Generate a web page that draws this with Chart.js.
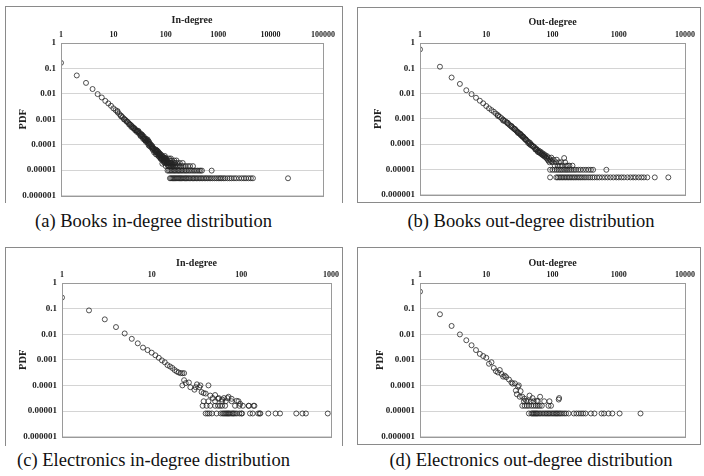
<!DOCTYPE html>
<html lang="en">
<head>
<meta charset="UTF-8">
<title>Degree distributions</title>
<script src="https://cdn.jsdelivr.net/npm/chart.js"></script>
<style>
  body { margin: 0; background: #fff; }
  #page { position: relative; width: 704px; height: 476px; overflow: hidden; }
  .box { position: absolute; border: 1px solid #8a8a8a; box-sizing: border-box; }
  .open { border-bottom: none; }
  canvas { position: absolute; }
  .cap { position: absolute; font-family: "Liberation Serif", serif; font-size: 18.5px; color: #111; white-space: nowrap; text-align: center; }
</style>
</head>
<body>
<div id="page">
  <div class="box open" style="left:5px;top:6px;width:338px;height:197px"></div>
  <div class="box" style="left:357px;top:7px;width:344px;height:196px"></div>
  <div class="box open" style="left:5px;top:247px;width:338px;height:199px"></div>
  <div class="box" style="left:357px;top:247px;width:344px;height:198px"></div>

  <canvas id="booksIn" width="336" height="199" style="left:6px;top:7px"></canvas>
  <canvas id="booksOut" width="341" height="197" style="left:358px;top:8px"></canvas>
  <canvas id="elecIn" width="336" height="199" style="left:6px;top:248px"></canvas>
  <canvas id="elecOut" width="341" height="199" style="left:358px;top:248px"></canvas>

  <div class="cap" style="left:0px;top:211px;width:307px">(a) Books in-degree distribution</div>
  <div class="cap" style="left:376px;top:211px;width:310px">(b) Books out-degree distribution</div>
  <div class="cap" style="left:0px;top:450px;width:307px">(c) Electronics in-degree distribution</div>
  <div class="cap" style="left:376px;top:450px;width:310px">(d) Electronics out-degree distribution</div>
</div>

<script>
// shared y axis (PDF)
const yTickValues = [0.000001, 0.00001, 0.0001, 0.001, 0.01, 0.1, 1];
const yTickLabels = ['0.000001', '0.00001', '0.0001', '0.001', '0.01', '0.1', '1'];

// x axis ticks
const xTicks5 = [1, 10, 100, 1000, 10000, 100000];
const xLabels5 = ['1', '10', '100', '1000', '10000', '100000'];
const xTicks4 = [1, 10, 100, 1000, 10000];
const xLabels4 = ['1', '10', '100', '1000', '10000'];
const xTicks3 = [1, 10, 100, 1000];
const xLabels3 = ['1', '10', '100', '1000'];

// (a) Books in-degree
const booksInX = [1,2,3,4,5,6,7,8,9,10,11,12,13,14,15,16,17,18,19,20,21,22,23,24,25,26,27,28,29,30,
  31,32,33,34,35,36,37,38,39,40,41,42,43,44,45,46,47,48,49,50,
  52,54,55,56,58,60,62,64,65,67,68,70,72,74,75,77,78,80,82,84,85,86,88,90,92,94,95,97,99,100,
  103,105,108,110,112,115,118,120,125,128,132,135,140,145,150,
  30,35,40,45,50,55,60,65,70,75,80,90,96,
  12,14,16,18,20,22,24,26,28,33,37,42,47,53,57,63,66,69,73,76,79,83,87,91,98];
const booksInPdf = [0.166,0.053,0.027,0.0155,0.0098,0.0072,0.0053,0.0042,0.0034,0.0027,0.0023,0.0019,0.0016,0.0014,0.0012,
  0.00105,0.00094,0.00084,0.00076,0.00068,0.00062,0.00057,0.00052,0.00047,0.00045,0.00041,0.00037,0.00036,0.00034,0.00031,
  0.00027,0.00029,0.00024,0.00026,0.00021,0.00023,0.00019,0.00021,0.00017,0.00018,0.00015,0.00017,0.00014,0.00015,0.00012,
  0.00014,0.00011,0.00013,0.0001,0.00011,
  0.0001,0.000085,0.00009,0.000078,0.000072,0.000068,0.00006,0.000065,0.000055,0.00005,0.000058,0.000045,0.000052,0.00004,
  0.000047,0.000038,0.000044,0.000034,0.00004,0.00003,0.000036,0.000018,0.000028,0.000033,0.000025,0.00003,0.000022,0.000027,
  0.00002,0.000025,
  0.000029,0.000019,0.000024,0.000016,0.00002,0.000014,0.000019,0.000024,0.000014,0.000019,0.000014,0.000017,0.000014,0.000019,0.000014,
  0.00035,0.00025,0.00015,0.00016,0.000085,0.00007,0.00005,0.000042,0.000056,0.000033,0.000028,0.000024,0.000036,
  0.0021,0.0013,0.00098,0.0008,0.00062,0.0005,0.00044,0.00037,0.00032,0.00022,0.00017,0.00013,0.000095,0.00008,0.000062,
  0.000052,0.000062,0.00004,0.000036,0.000042,0.00003,0.000026,0.000033,0.000021,0.00003];
const booksInTailLevels = [0.0000048, 0.0000096, 0.0000144, 0.0000192, 0.000024, 0.0000288];
const booksInTailX = [
  [120,126,133,140,147,155,163,172,181,190,200,212,225,238,250,265,280,300,320,340,360,385,410,440,470,500,540,580,620,670,
   720,780,850,920,1000,1080,1150,1250,1350,1500,1650,1800,2000,2200,2500,2800,3100,3400,3800,4200,4600,21500],
  [108,115,122,130,138,146,155,165,175,185,197,210,225,240,255,275,295,320,345,370,400,430,460,490,750],
  [100,110,118,127,136,148,160,172,186,200,220,240,265,290,330],
  [95,104,113,124,150,165,185,210],
  [92,100,130,145,160],
  [84,97,115,125]
];

// (b) Books out-degree
const booksOutX = [1,2,3,4,5,6,7,8,9,10,11,12,13,14,15,16,17,18,19,20,21,22,23,24,25,26,27,28,29,30,
  31,32,33,34,35,36,37,38,39,40,
  42,44,45,46,48,50,52,54,55,57,59,60,62,64,66,68,70,72,74,76,78,80,83,85,88,90,93,96,100,
  104,108,112,116,120,125,130,135,140,150,155,160,170,180,200,
  15,18,21,24,27,30,33,36,40,43,47,51,56,61,65,70,75,82,87,95];
const booksOutPdf = [0.56,0.115,0.043,0.024,0.0135,0.0095,0.0068,0.0052,0.0041,0.0032,0.0026,0.0022,0.0019,0.0016,0.0014,
  0.0012,0.00105,0.00093,0.00083,0.00075,0.00066,0.0006,0.00054,0.00049,0.00045,0.00041,0.00038,0.00035,0.00032,0.0003,
  0.00027,0.00026,0.00023,0.00022,0.0002,0.00019,0.00018,0.00016,0.00016,0.00014,
  0.00013,0.00012,0.0001,0.00011,0.000095,0.000085,0.00008,0.000072,0.000062,0.000065,0.000058,0.00005,0.000055,0.000046,
  0.00005,0.00004,0.000044,0.000036,0.00004,0.000032,0.000036,0.000029,0.000033,0.000024,0.000029,0.000019,0.000024,0.000029,0.000019,
  0.000024,0.000014,0.000019,0.000024,0.000014,0.000019,0.000014,0.000019,0.000014,0.000028,0.000019,0.000014,0.000014,0.000014,0.000014,
  0.0013,0.00085,0.0007,0.00052,0.0004,0.00028,0.00025,0.0002,0.00015,0.00011,0.00009,0.000078,0.00006,0.000048,0.000044,
  0.000038,0.000034,0.000027,0.000022,0.000021];
const booksOutTailLevels = [0.0000048, 0.0000096];
const booksOutTailX = [
  [92,114,120,127,134,141,149,157,166,175,185,196,208,220,234,248,263,280,300,320,345,370,400,430,470,510,560,620,680,750,
   830,920,1000,1100,1200,1350,1500,1650,1800,2000,2200,2400,2700,3500,5600],
  [92,100,108,116,124,132,140,150,160,170,182,195,210,225,245,265,290,320,350,380,410,650]
];

// (c) Electronics in-degree
const elecInX = [1,2,3,4,5,6,7,8,9,10,11,12,13,14,15,16,17,18,19,20,21,22,23,
  23,24,26,22,27,30,31,32,34,35,36,38,43,40,45,51,55,61,72,78,89,97,121,137];
const elecInPdf = [0.27,0.085,0.038,0.019,0.0107,0.0066,0.0044,0.003,0.0024,0.0019,0.0015,0.0012,0.00095,0.0008,0.00062,
  0.00055,0.00048,0.0004,0.00035,0.00032,0.0003,0.0003,0.0003,
  0.00016,0.000123,0.00013,0.0001,0.000085,0.000068,0.000085,0.00011,0.000085,0.0001,0.000055,0.00005,0.0001,0.000048,
  0.00004,0.000042,0.00003,0.000028,0.000036,0.00003,0.000025,0.000019,0.000016,0.000016];
const elecInTailLevels = [0.000008, 0.000016, 0.000024, 0.000032];
const elecInTailX = [
  [40,42,44,47,53,59,62,64,66,68,70,72,74,77,80,82,85,89,95,100,102,125,134,154,160,163,200,241,270,410,480,525,920],
  [37,41,45,51,55,58,61,66,85,95,104,121,140],
  [38,43,51,61,67,78,93],
  [48,56,64,70]
];

// (d) Electronics out-degree
const elecOutX = [1,2,3,4,5,6,7,8,9,10,11,12,13,14,15,16,17,18,19,20,22,24,25,27,28,29,30,31,32,33,35,38,40,45,50,58,65,90,124,126];
const elecOutPdf = [0.46,0.06,0.021,0.0098,0.0058,0.0037,0.0024,0.0017,0.0014,0.0012,0.0007,0.0008,0.00048,0.00036,0.00032,
  0.0004,0.00028,0.00022,0.00024,0.00021,0.00017,0.00013,0.000117,0.00012,0.000063,0.000045,0.00009,0.0001,0.000036,0.00006,
  0.000036,0.00003,0.000025,0.00004,0.000032,0.000025,0.000036,0.000024,0.000028,0.000032];
const elecOutTailLevels = [0.000008, 0.000016, 0.000024];
const elecOutTailX = [
  [44,48,50,52,54,56,58,60,63,66,70,74,78,82,86,90,95,100,105,110,115,120,126,132,140,150,160,175,210,230,250,270,290,315,
   380,430,550,600,700,800,1030,2130],
  [35,38,41,44,48,52,56,60,64,69,87,95],
  [37,42,47,52,60,75]
];

const serif = 'Liberation Serif';

// grey frame round the plot area
const frame = {
  id: 'frame',
  afterDraw(chart) {
    const a = chart.chartArea;
    const ctx = chart.ctx;
    ctx.save();
    ctx.strokeStyle = '#9a9a9a';
    ctx.lineWidth = 1;
    ctx.strokeRect(Math.round(a.left) + 0.5, Math.round(a.top) + 0.5,
      Math.round(a.right - a.left), Math.round(a.bottom - a.top));
    ctx.restore();
  }
};

function makePanel(id, xTicks, xLabels, xTitle, mainX, mainPdf, tailLevels, tailX, box) {
  const points = mainX.map((x, i) => ({ x: x, y: mainPdf[i] }));
  tailX.forEach((row, k) => row.forEach(x => points.push({ x: x, y: tailLevels[k] })));

  new Chart(document.getElementById(id), {
    type: 'scatter',
    data: {
      datasets: [{
        data: points,
        pointStyle: 'circle',
        pointRadius: 2.5,
        borderWidth: 1,
        borderColor: 'rgba(35,35,35,0.78)',
        backgroundColor: 'rgba(255,255,255,0)'
      }]
    },
    options: {
      responsive: false,
      animation: false,
      layout: { padding: { top: 0, left: 0, right: box.right, bottom: 0 } },
      plugins: { legend: { display: false }, tooltip: { enabled: false } },
      scales: {
        x: {
          type: 'logarithmic',
          position: 'top',
          min: xTicks[0],
          max: xTicks[xTicks.length - 1],
          afterBuildTicks: s => { s.ticks = xTicks.map(v => ({ value: v })); },
          afterFit: s => { s.height = box.xh; },
          ticks: {
            callback: (v, i) => xLabels[i],
            font: { family: serif, size: 8, weight: 'bold' },
            color: '#222',
            padding: 3,
            maxRotation: 0,
            autoSkip: false
          },
          grid: { drawOnChartArea: false, drawTicks: false },
          border: { display: false },
          title: {
            display: true,
            text: xTitle,
            font: { family: serif, size: 10, weight: 'bold' },
            color: '#222',
            padding: { top: box.tt, bottom: 0 }
          }
        },
        y: {
          type: 'logarithmic',
          min: yTickValues[0],
          max: yTickValues[yTickValues.length - 1],
          afterBuildTicks: s => { s.ticks = yTickValues.map(v => ({ value: v })); },
          afterFit: s => { s.width = box.yw; },
          ticks: {
            callback: (v, i) => yTickLabels[i],
            font: { family: serif, size: 9, weight: 'bold' },
            color: '#222',
            padding: 5,
            autoSkip: false
          },
          grid: { color: '#d4d4d4', drawTicks: false },
          border: { display: false },
          title: {
            display: true,
            text: 'PDF',
            font: { family: serif, size: 10.5, weight: 'bold' },
            color: '#222',
            padding: { top: box.pt, bottom: 0 }
          }
        }
      }
    },
    plugins: [frame]
  });
}

makePanel('booksIn', xTicks5, xLabels5, 'In-degree', booksInX, booksInPdf, booksInTailLevels, booksInTailX,
  { yw: 55, xh: 36, right: 19, tt: 7, pt: 11 });
makePanel('booksOut', xTicks4, xLabels4, 'Out-degree', booksOutX, booksOutPdf, booksOutTailLevels, booksOutTailX,
  { yw: 62, xh: 35, right: 14, tt: 8, pt: 14 });
makePanel('elecIn', xTicks3, xLabels3, 'In-degree', elecInX, elecInPdf, elecInTailLevels, elecInTailX,
  { yw: 56, xh: 35, right: 8, tt: 9, pt: 11 });
makePanel('elecOut', xTicks4, xLabels4, 'Out-degree', elecOutX, elecOutPdf, elecOutTailLevels, elecOutTailX,
  { yw: 62, xh: 35, right: 14, tt: 9, pt: 16 });
</script>
</body>
</html>
